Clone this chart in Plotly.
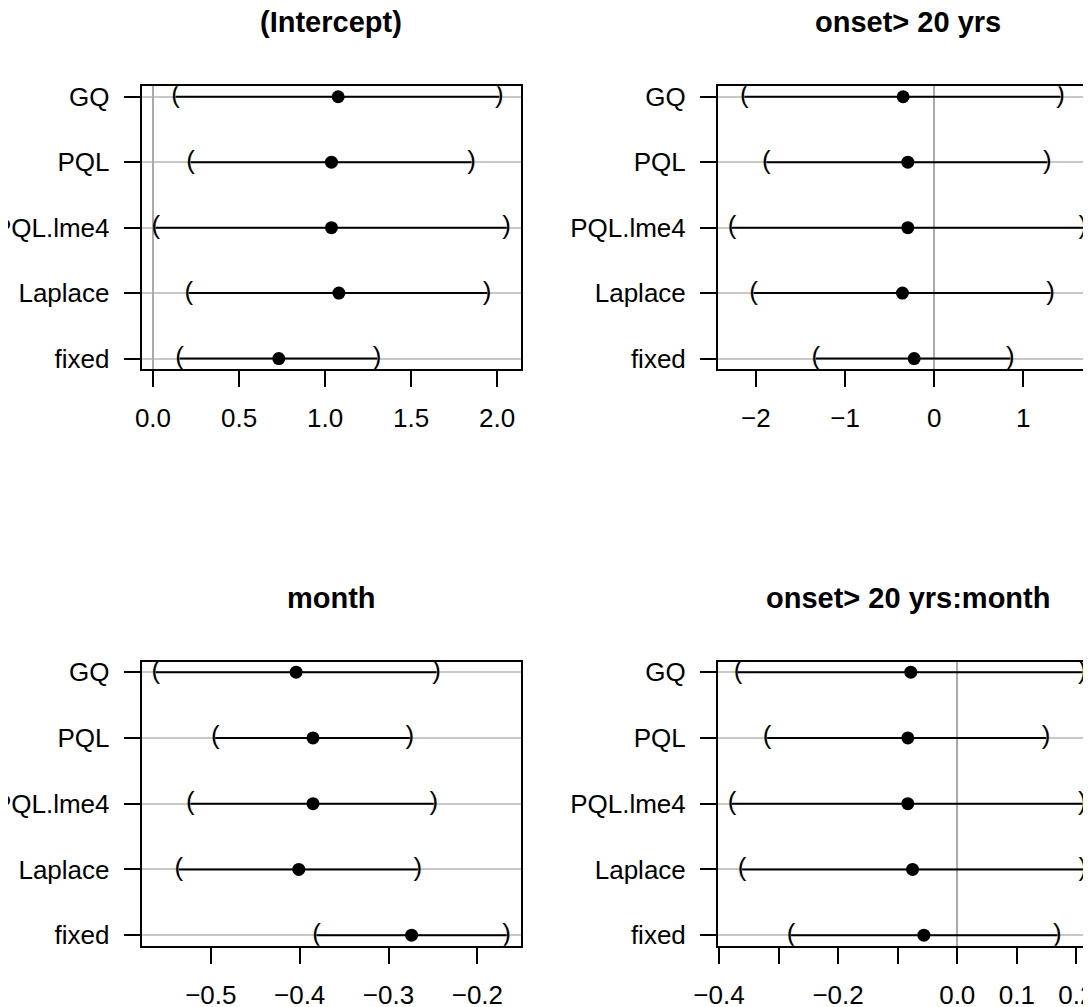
import plotly.graph_objects as go

# ---------------- data ----------------
methods = ["GQ", "PQL", "PQL.lme4", "Laplace", "fixed"]
panel_titles = ["(Intercept)", "onset> 20 yrs", "month", "onset> 20 yrs:month"]

intercept_est = [1.076, 1.037, 1.037, 1.080, 0.731]
intercept_lo = [0.132, 0.219, 0.016, 0.209, 0.155]
intercept_hi = [2.012, 1.851, 2.055, 1.942, 1.302]

onset_est = [-0.349, -0.296, -0.296, -0.356, -0.225]
onset_lo = [-2.129, -1.882, -2.268, -2.025, -1.327]
onset_hi = [1.417, 1.268, 1.669, 1.305, 0.855]

month_est = [-0.404, -0.385, -0.385, -0.401, -0.274]
month_lo = [-0.562, -0.495, -0.523, -0.536, -0.381]
month_hi = [-0.246, -0.276, -0.249, -0.267, -0.167]

inter_est = [-0.078, -0.083, -0.083, -0.075, -0.056]
inter_lo = [-0.368, -0.319, -0.378, -0.361, -0.279]
inter_hi = [0.210, 0.149, 0.210, 0.211, 0.168]

ticks_intercept = [0.0, 0.5, 1.0, 1.5, 2.0]
ticklabels_intercept = ["0.0", "0.5", "1.0", "1.5", "2.0"]
ticks_onset = [-2, -1, 0, 1, 2]
ticklabels_onset = ["\u22122", "\u22121", "0", "1", "2"]
ticks_month = [-0.5, -0.4, -0.3, -0.2]
ticklabels_month = ["\u22120.5", "\u22120.4", "\u22120.3", "\u22120.2"]
ticks_inter = [-0.4, -0.3, -0.2, -0.1, 0.0, 0.1, 0.2]
ticklabels_inter = ["\u22120.4", "", "\u22120.2", "", "0.0", "0.1", "0.2"]

panels = [
    (intercept_est, intercept_lo, intercept_hi, ticks_intercept, ticklabels_intercept),
    (onset_est, onset_lo, onset_hi, ticks_onset, ticklabels_onset),
    (month_est, month_lo, month_hi, ticks_month, ticklabels_month),
    (inter_est, inter_lo, inter_hi, ticks_inter, ticklabels_inter),
]

# ---------------- layout geometry ----------------
OFF = 8  # default page margin of the html body
W, H = 1091 - OFF, 1007 - OFF
FONT = "Liberation Sans, Arial, Helvetica, sans-serif"
FS = 26
col_px = [(141.7 - OFF, 520.7 - OFF), (718.0 - OFF, 1097.0 - OFF)]   # right column runs off the page
row_px = [(86.3 - OFF, 369.0 - OFF), (661.7 - OFF, 945.7 - OFF)]
title_px_y = [22.3 - OFF, 598.0 - OFF]

fig = go.Figure()
layout = dict(
    template="none",
    width=W, height=H,
    margin=dict(l=0, r=0, t=0, b=0, pad=0, autoexpand=False),
    paper_bgcolor="white", plot_bgcolor="white",
    showlegend=False,
    font=dict(family=FONT, size=FS, color="black"),
    annotations=[],
)

for k, (est, lo, hi, tv, tt) in enumerate(panels):
    r, c = divmod(k, 2)
    ax = "" if k == 0 else str(k + 1)
    xref, yref = "x" + ax, "y" + ax

    x0p, x1p = col_px[c]
    vis_x1p = min(x1p, W)
    y0p, y1p = row_px[r]

    dmin, dmax = min(lo), max(hi)
    span = dmax - dmin
    rlo, rhi = dmin - 0.04 * span, dmax + 0.04 * span
    vis_hi = rlo + (rhi - rlo) * (vis_x1p - x0p) / (x1p - x0p)

    # CI segments
    xs, ys = [], []
    for m, a, b in zip(methods, lo, hi):
        xs += [a, b, None]
        ys += [m, m, None]
    fig.add_trace(go.Scatter(x=xs, y=ys, mode="lines", xaxis=xref, yaxis=yref,
                             line=dict(color="black", width=2), hoverinfo="skip"))
    # brackets
    fig.add_trace(go.Scatter(x=lo, y=methods, mode="text", text=["("] * len(lo),
                             textposition="middle center", xaxis=xref, yaxis=yref,
                             textfont=dict(family=FONT, size=FS, color="black"),
                             hoverinfo="skip"))
    fig.add_trace(go.Scatter(x=hi, y=methods, mode="text", text=[")"] * len(hi),
                             textposition="middle center", xaxis=xref, yaxis=yref,
                             textfont=dict(family=FONT, size=FS, color="black"),
                             hoverinfo="skip"))
    # estimates
    fig.add_trace(go.Scatter(x=est, y=methods, mode="markers", xaxis=xref, yaxis=yref,
                             marker=dict(color="black", size=13, symbol="circle",
                                         line=dict(width=0))))

    right_open = x1p > W
    layout["xaxis" + ax] = dict(
        domain=[x0p / W, vis_x1p / W],
        anchor=yref,
        automargin=False,
        range=[rlo, vis_hi],
        tickmode="array", tickvals=tv, ticktext=tt,
        ticks="outside", ticklen=16, tickwidth=2, tickcolor="black",
        ticklabelstandoff=9,
        ticklabeloverflow="allow",
        showline=True, linecolor="black", linewidth=2, mirror=True,
        showgrid=False,
        zeroline=True, zerolinecolor="#aaaaaa", zerolinewidth=2,
        tickfont=dict(family=FONT, size=FS, color="black"),
    )
    layout["yaxis" + ax] = dict(
        domain=[1 - y1p / H, 1 - y0p / H],
        anchor=xref,
        automargin=False,
        type="category",
        categoryorder="array", categoryarray=methods,
        range=[len(methods) - 1 + 0.16, -0.16],
        ticks="outside", ticklen=16, tickwidth=2, tickcolor="black",
        ticklabelstandoff=9,
        ticklabeloverflow="allow",
        showline=True, linecolor="black", linewidth=2,
        mirror=(not right_open),
        showgrid=True, gridcolor="#c8c8c8", gridwidth=2,
        zeroline=False,
        tickfont=dict(family=FONT, size=FS, color="black"),
    )
    layout["annotations"].append(dict(
        text="<b>" + panel_titles[k] + "</b>",
        xref="paper", yref="paper",
        x=(x0p + x1p) / 2 / W, y=1 - title_px_y[r] / H,
        xanchor="center", yanchor="middle", showarrow=False,
        font=dict(family=FONT, size=29, color="black"),
    ))

fig.update_layout(**layout)
fig.write_html("out.html")
